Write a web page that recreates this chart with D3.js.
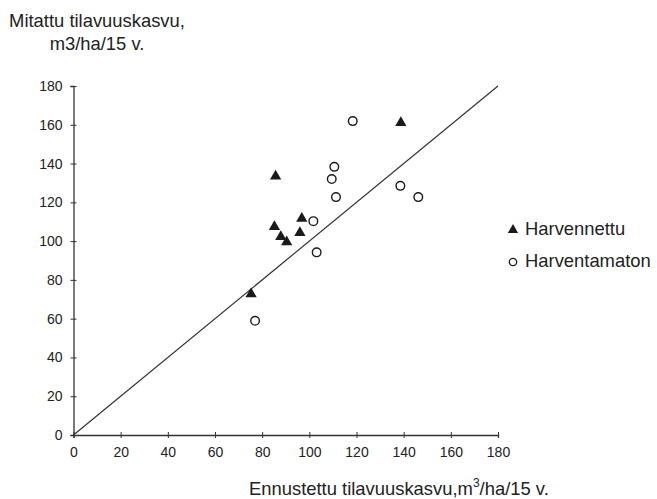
<!DOCTYPE html>
<html>
<head>
<meta charset="utf-8">
<script src="https://cdn.jsdelivr.net/npm/d3@7"></script>
<style>
  body { margin: 0; background: #fff; }
  text { font-family: "Liberation Sans", Arial, sans-serif; fill: #222; }
</style>
</head>
<body>
<div id="chart" style="width:657px;height:499px;"></div>
<script>
// data
const harvennettuX = [75.3, 85.7, 85.2, 87.9, 90.4, 96.0, 96.8, 138.8];
const harvennettuY = [72.7, 133.5, 107.4, 102.2, 99.6, 104.3, 111.7, 161.0];
const harventamatonX = [77.0, 101.7, 103.1, 109.5, 110.6, 111.3, 118.4, 138.6, 146.2];
const harventamatonY = [58.9, 110.3, 94.2, 132.0, 138.3, 122.7, 161.9, 128.5, 122.7];
const tickValues = [0, 20, 40, 60, 80, 100, 120, 140, 160, 180];
const legendLabels = ["Harvennettu", "Harventamaton"];

const width = 657, height = 499;

const svg = d3.select("#chart")
    .append("svg")
    .attr("width", width)
    .attr("height", height);

const margin = { top: 86, left: 73.5, right: 159, bottom: 64 };

const xScale = d3.scaleLinear()
    .domain([0, 180])
    .range([margin.left, width - margin.right]);

const yScale = d3.scaleLinear()
    .domain([0, 180])
    .range([height - margin.bottom, margin.top]);

// axes
const xAxis = svg.append("g")
    .attr("transform", `translate(0,${yScale(0)})`)
    .call(d3.axisBottom(xScale).tickValues(tickValues).tickSize(3).tickPadding(10));

const yAxis = svg.append("g")
    .attr("transform", `translate(${xScale(0)},0)`)
    .call(d3.axisLeft(yScale).tickValues(tickValues).tickSize(3).tickPadding(8));

[xAxis, yAxis].forEach(function(ax) {
    ax.select(".domain").attr("stroke", "#333").attr("stroke-width", 1.3);
    ax.selectAll(".tick line").attr("stroke", "#333").attr("stroke-width", 1);
    ax.selectAll(".tick text")
        .style("font-family", "Liberation Sans, Arial, sans-serif")
        .style("font-size", "14px")
        .attr("fill", "#222");
});
// ticks cross the axis line
xAxis.selectAll(".tick line").attr("y1", -3).attr("y2", 3);
yAxis.selectAll(".tick line").attr("x1", -3).attr("x2", 3);
xAxis.selectAll(".tick text").attr("y", 12);

// 1:1 line
svg.append("line")
    .attr("x1", xScale(0)).attr("y1", yScale(0))
    .attr("x2", xScale(180)).attr("y2", yScale(180))
    .attr("stroke", "#333")
    .attr("stroke-width", 1.2);

// markers
const tri = d3.symbol().type(d3.symbolTriangle).size(55);

svg.selectAll(".tri")
    .data(harvennettuX)
    .enter()
    .append("path")
        .attr("class", "tri")
        .attr("d", tri)
        .attr("transform", function(d, i) { return `translate(${xScale(d)},${yScale(harvennettuY[i])})`; })
        .attr("fill", "#1a1a1a");

svg.selectAll(".circ")
    .data(harventamatonX)
    .enter()
    .append("circle")
        .attr("class", "circ")
        .attr("cx", function(d) { return xScale(d); })
        .attr("cy", function(d, i) { return yScale(harventamatonY[i]); })
        .attr("r", 4.3)
        .attr("fill", "#fff")
        .attr("stroke", "#1a1a1a")
        .attr("stroke-width", 1.4);

// legend
const legend = svg.append("g").attr("transform", "translate(513,0)");
legend.append("path")
    .attr("d", d3.symbol().type(d3.symbolTriangle).size(45))
    .attr("transform", "translate(0,230)")
    .attr("fill", "#1a1a1a");
legend.append("circle")
    .attr("cx", 0).attr("cy", 262).attr("r", 3.7)
    .attr("fill", "#fff").attr("stroke", "#1a1a1a").attr("stroke-width", 1.3);
legend.selectAll(".legText")
    .data(legendLabels)
    .enter()
    .append("text")
        .attr("class", "legText")
        .attr("x", 12)
        .attr("y", function(d, i) { return 235 + i * 32; })
        .style("font-size", "18.4px")
        .text(function(d) { return d; });

// axis labels
svg.append("text")
    .attr("x", 97)
    .attr("y", 26.5)
    .attr("text-anchor", "middle")
    .style("font-size", "18.4px")
    .text("Mitattu tilavuuskasvu,");
svg.append("text")
    .attr("x", 97)
    .attr("y", 50)
    .attr("text-anchor", "middle")
    .style("font-size", "18.4px")
    .text("m3/ha/15 v.");

const xLabel = svg.append("text")
    .attr("x", 249)
    .attr("y", 495)
    .style("font-size", "18.4px");
xLabel.append("tspan").text("Ennustettu tilavuuskasvu,m");
xLabel.append("tspan").attr("dy", -8).style("font-size", "12px").text("3");
xLabel.append("tspan").attr("dy", 8).text("/ha/15 v.");
</script>
</body>
</html>
